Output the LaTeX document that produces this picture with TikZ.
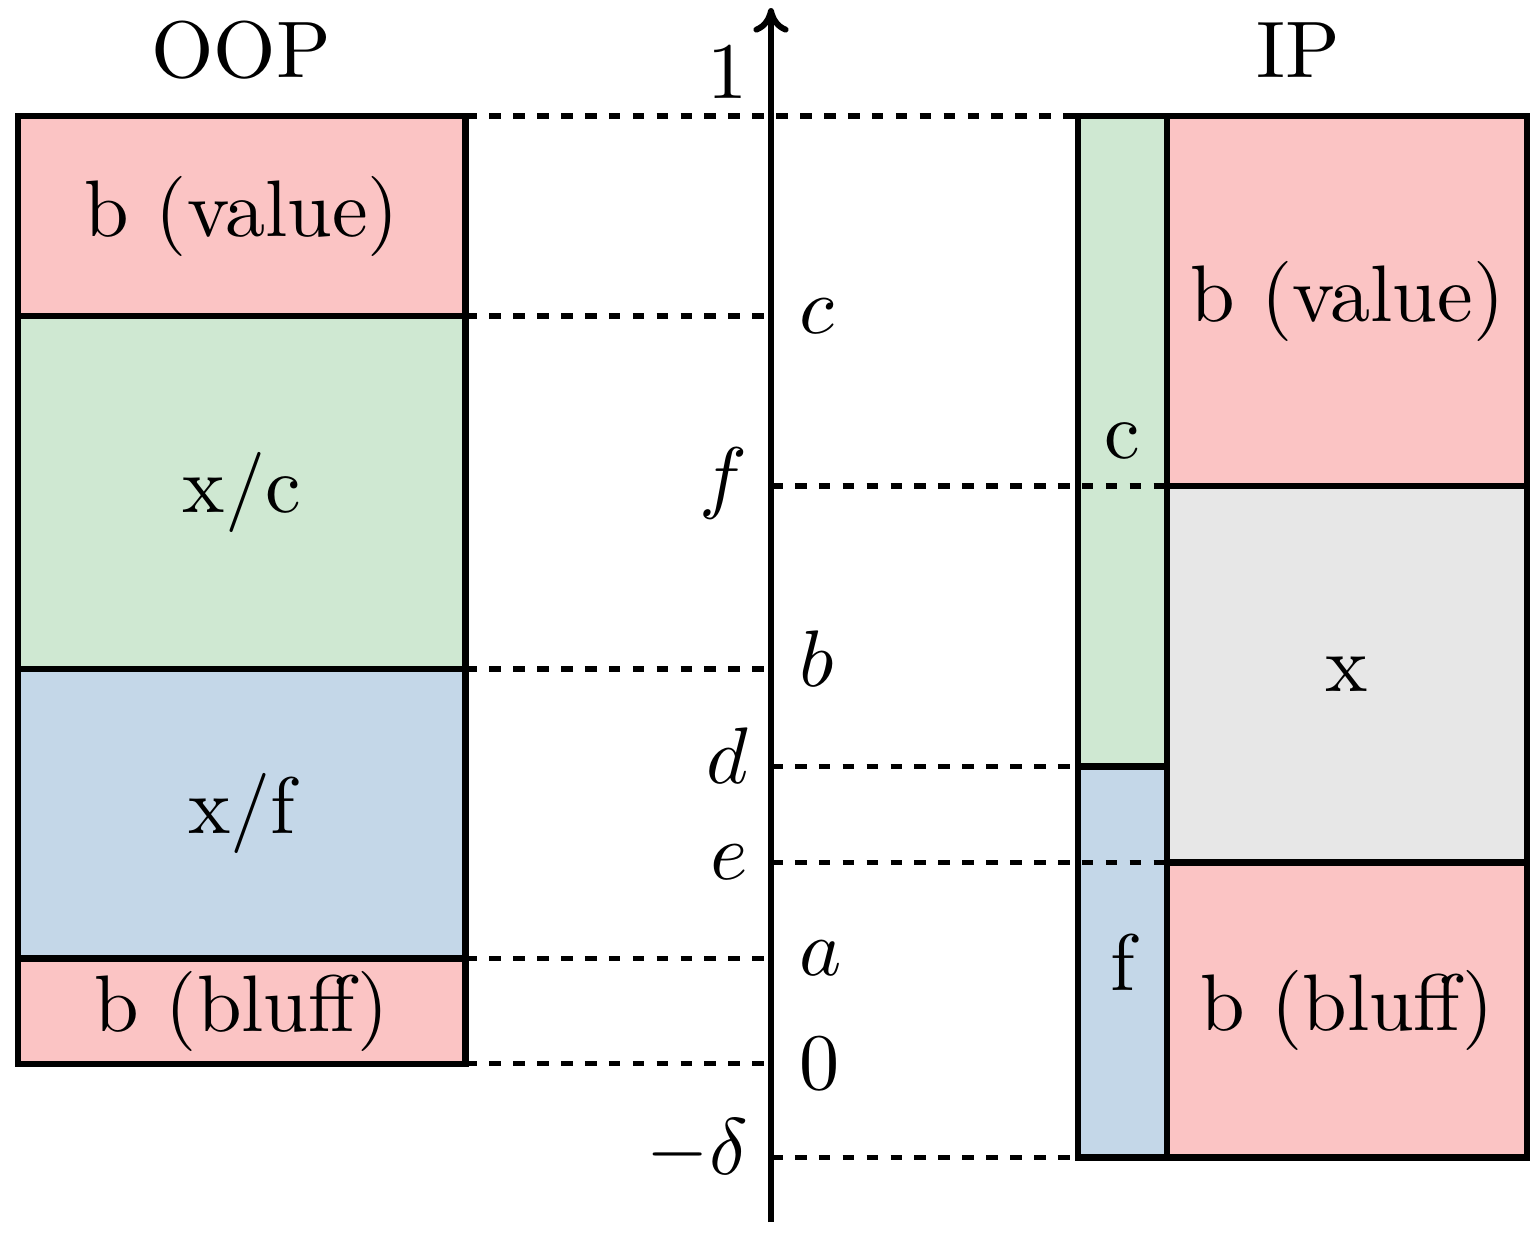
\documentclass[tikz,border=0pt]{standalone}
\usetikzlibrary{positioning,arrows.meta}
\definecolor{betred}{RGB}{251,196,196}
\definecolor{callgreen}{RGB}{207,232,210}
\definecolor{foldblue}{RGB}{196,215,232}
\definecolor{checkgray}{RGB}{231,231,231}
\begin{document}
\begin{tikzpicture}[x=0.01cm, y=-0.01cm,
        bigtext/.style={scale=2.28},
        leftlab/.style={bigtext, anchor=mid east, inner xsep=2.7pt},
        rightlab/.style={bigtext, anchor=mid west},
        region/.style={draw, line width=1.8pt, inner sep=0pt, outer sep=0pt, anchor=north west, scale=2.28},
        guide/.style={line width=1.6pt, dash pattern=on 3.3pt off 3.5pt},
        node distance=0pt]
        \useasboundingbox (0,0) rectangle (1538,1236);

        % OOP column
        \node[region, fill=betred, minimum width=1.961cm, minimum height=0.877cm] (oopval) at (18,116) {b (value)};
        \node[region, fill=callgreen, minimum width=1.961cm, minimum height=1.548cm, below=of oopval] (oopxc) {x/c};
        \node[region, fill=foldblue, minimum width=1.961cm, minimum height=1.268cm, below=of oopxc] (oopxf) {x/f};
        \node[region, fill=betred, minimum width=1.961cm, minimum height=0.461cm, below=of oopxf] (oopbl) {b (bluff)};
        \node[bigtext, anchor=base] (oophead) at (241,77) {OOP};

        % IP columns
        \node[region, fill=callgreen, minimum width=0.390cm, minimum height=2.851cm] (ipc) at (1078,116) {c};
        \node[region, fill=foldblue, minimum width=0.390cm, minimum height=1.715cm, below=of ipc] (ipf) {f};
        \node[region, fill=betred, minimum width=1.579cm, minimum height=1.623cm] (ipval) at (1167,116) {b (value)};
        \node[region, fill=checkgray, minimum width=1.579cm, minimum height=1.649cm, below=of ipval] (ipx) {x};
        \node[region, fill=betred, minimum width=1.579cm, minimum height=1.294cm, below=of ipx] (ipbl) {b (bluff)};
        \node[bigtext, anchor=base] (iphead) at (1298,77) {IP};

        % Ось
        \coordinate (axbot) at (771,1222);
        \coordinate (axtop) at (771,8);
        \draw[-{Computer Modern Rightarrow[length=7pt, width=10pt]}, line width=1.7pt] (axbot) -- (axtop);

        % Отметки на оси
        \coordinate (t1) at (axtop |- oopval.north);
        \coordinate (tc) at (axtop |- oopval.south);
        \coordinate (tf) at (axtop |- ipval.south);
        \coordinate (tb) at (axtop |- oopxc.south);
        \coordinate (td) at (axtop |- ipc.south);
        \coordinate (te) at (axtop |- ipx.south);
        \coordinate (ta) at (axtop |- oopxf.south);
        \coordinate (t0) at (axtop |- oopbl.south);
        \coordinate (tdelta) at (axtop |- ipf.south);

        \node[leftlab] (lab1) at (axtop |- 0,81) {1};
        \node[rightlab] (labc) at (tc) {$c$};
        \node[leftlab] (labf) at (tf) {$f$};
        \node[rightlab] (labb) at (tb) {$b$};
        \node[leftlab] (labd) at (td) {$d$};
        \node[leftlab] (labe) at (te) {$e$};
        \node[rightlab] (laba) at (ta) {$a$};
        \node[rightlab, anchor=west] (lab0) at (t0) {$0$};
        \node[leftlab] (labdelta) at (tdelta) {$-\delta$};

        % Пунктирные уровни
        \draw[guide] (oopval.north east) -- (ipc.north west);
        \draw[guide] (oopval.south east) -- (tc);
        \draw[guide] (oopxc.south east) -- (tb);
        \draw[guide] (oopxf.south east) -- (ta);
        \draw[guide] (oopbl.south east) -- (t0);
        \draw[guide] (tf) -- (ipval.south west);
        \draw[guide] (td) -- (ipc.south west);
        \draw[guide] (te) -- (ipx.south west);
        \draw[guide] (tdelta) -- (ipf.south west);
\end{tikzpicture}
\end{document}
